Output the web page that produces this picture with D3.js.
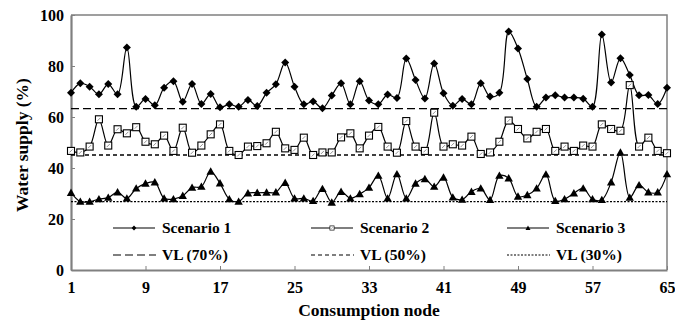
<!DOCTYPE html>
<html>
<head>
<meta charset="utf-8">
<script src="https://cdn.jsdelivr.net/npm/d3@7"></script>
<style>
  body { margin: 0; background: #fff; }
</style>
</head>
<body>
<svg id="chart" width="675" height="327"></svg>
<script>
// data
const nodes = d3.range(1, 66);
const xTicks = [1, 9, 17, 25, 33, 41, 49, 57, 65];
const yTicks = [0, 20, 40, 60, 80, 100];

const scenario1 = [69.5, 73.2, 71.9, 68.9, 72.9, 68.9, 87.3, 64.0, 67.1, 64.6,
  71.5, 74.0, 66.0, 72.9, 65.1, 69.0, 63.8, 65.0, 64.0, 66.7,
  64.3, 69.5, 72.8, 81.4, 71.9, 65.0, 66.1, 63.4, 68.4, 73.2,
  65.0, 74.0, 66.5, 65.0, 68.8, 67.5, 82.9, 74.5, 67.3, 81.0,
  69.3, 64.4, 67.1, 65.0, 73.2, 68.0, 69.5, 93.5, 86.9, 74.9,
  64.0, 67.6, 68.5, 67.6, 67.6, 67.2, 64.0, 92.4, 73.5, 83.0,
  76.5, 68.5, 68.6, 65.1, 71.5];
const scenario2 = [46.7, 46.1, 48.4, 59.1, 48.8, 55.2, 53.6, 56.0, 50.3, 49.3,
  52.7, 46.7, 55.8, 46.0, 48.8, 53.2, 57.1, 46.7, 45.1, 48.4,
  48.6, 49.7, 54.2, 47.7, 47.1, 51.9, 45.1, 46.1, 46.1, 52.0,
  53.6, 47.7, 52.7, 56.1, 48.4, 46.0, 58.4, 48.4, 46.7, 61.7,
  48.4, 49.3, 48.8, 52.3, 45.5, 46.1, 50.3, 58.6, 55.3, 51.6,
  54.2, 55.3, 46.7, 48.4, 46.7, 48.8, 48.4, 57.1, 55.3, 54.6,
  72.5, 48.4, 51.9, 46.7, 45.8];
const scenario3 = [30.3, 26.8, 26.8, 27.8, 28.4, 30.5, 28.1, 32.0, 33.9, 34.4,
  28.1, 27.8, 29.1, 32.3, 32.7, 38.6, 34.0, 27.8, 26.8, 30.1,
  30.3, 30.4, 30.5, 34.2, 28.1, 28.1, 27.1, 31.8, 26.5, 30.7,
  28.1, 29.8, 32.3, 37.0, 28.1, 37.6, 28.1, 33.9, 35.7, 32.7,
  36.3, 28.5, 27.6, 30.7, 32.0, 27.5, 37.0, 36.0, 28.8, 29.4,
  32.0, 37.5, 27.1, 27.8, 30.1, 32.0, 27.8, 27.5, 34.4, 46.1,
  28.4, 33.3, 30.5, 30.5, 37.6];
const vlNames = ["VL (70%)", "VL (50%)", "VL (30%)"];
const vlValues = [63.3, 45.1, 26.8];
const seriesNames = ["Scenario 1", "Scenario 2", "Scenario 3"];

// plot area
const margin = {top: 15, right: 8, bottom: 57, left: 71};
const width = 675 - margin.left - margin.right;
const height = 327 - margin.top - margin.bottom;

const svg = d3.select("#chart");
const g = svg.append("g")
    .attr("transform", "translate(" + margin.left + "," + margin.top + ")");

const x = d3.scaleLinear().domain([1, 65]).range([0, width]);
const y = d3.scaleLinear().domain([0, 100]).range([height, 0]);

const series = [
  {name: seriesNames[0], values: scenario1, marker: "diamond"},
  {name: seriesNames[1], values: scenario2, marker: "square"},
  {name: seriesNames[2], values: scenario3, marker: "triangle"}
];
const dashes = ["8,4", "4,3", "2,1.5"];

// frame (top + right)
g.append("path")
    .attr("d", "M0,0H" + width + "V" + height)
    .attr("fill", "none")
    .attr("stroke", "#808080")
    .attr("stroke-width", 1.5);

// axes
const xAxis = g.append("g")
    .attr("transform", "translate(0," + height + ")")
    .call(d3.axisBottom(x).tickValues(xTicks).tickSizeInner(-4).tickSizeOuter(0).tickPadding(12));
const yAxis = g.append("g")
    .call(d3.axisLeft(y).tickValues(yTicks).tickSizeInner(-4).tickSizeOuter(0).tickPadding(7));

[xAxis, yAxis].forEach(function (a) {
  a.select(".domain").attr("stroke", "#808080").attr("stroke-width", 2.2);
  a.selectAll(".tick line").attr("stroke", "#808080").attr("stroke-width", 1);
  a.selectAll(".tick text")
      .attr("fill", "#000")
      .attr("font-size", 16);
});

// vl reference lines
vlValues.forEach(function (v, i) {
  g.append("line")
      .attr("x1", 0).attr("x2", width)
      .attr("y1", y(v)).attr("y2", y(v))
      .attr("stroke", "#000")
      .attr("stroke-width", 1.3)
      .attr("stroke-dasharray", dashes[i]);
});

// markers
function drawMarker(sel, type) {
  if (type === "diamond") {
    sel.append("path")
        .attr("d", "M0,-4L4,0L0,4L-4,0Z")
        .attr("fill", "#000");
  } else if (type === "square") {
    sel.append("rect")
        .attr("x", -3.5).attr("y", -3.5)
        .attr("width", 7).attr("height", 7)
        .attr("fill", "#fff")
        .attr("stroke", "#000")
        .attr("stroke-width", 1.1);
    sel.append("path")
        .attr("d", "M-1.5,1.5L1.5,-1.5")
        .attr("stroke", "#777")
        .attr("stroke-width", 0.8);
  } else {
    sel.append("path")
        .attr("d", "M0,-4.2L4.2,3.2L-4.2,3.2Z")
        .attr("fill", "#000");
  }
}

const line = d3.line()
    .x(function (d, i) { return x(nodes[i]); })
    .y(function (d) { return y(d); })
    .curve(d3.curveCatmullRom.alpha(0.5));

series.forEach(function (s) {
  g.append("path")
      .datum(s.values)
      .attr("d", line)
      .attr("fill", "none")
      .attr("stroke", "#000")
      .attr("stroke-width", 1.2);

  g.append("g")
      .selectAll("g")
      .data(s.values)
      .enter()
      .append("g")
      .attr("transform", function (d, i) {
        return "translate(" + x(nodes[i]) + "," + y(d) + ")";
      })
      .each(function () { drawMarker(d3.select(this), s.marker); });
});

// legend
const legX = [113, 311, 507];
const legend = svg.append("g");
series.forEach(function (s, i) {
  const row = legend.append("g").attr("transform", "translate(" + legX[i] + ",228)");
  row.append("line")
      .attr("x1", 0).attr("x2", 42)
      .attr("stroke", "#000")
      .attr("stroke-width", 1.2);
  const m = row.append("g").attr("transform", "translate(21,0) scale(0.6)");
  drawMarker(m, s.marker);
  row.append("text")
      .attr("x", 49)
      .attr("dy", "0.35em")
      .attr("font-size", 15.5)
      .text(s.name);

  const row2 = legend.append("g").attr("transform", "translate(" + legX[i] + ",255)");
  row2.append("line")
      .attr("x1", 0).attr("x2", 43)
      .attr("stroke", "#000")
      .attr("stroke-width", 1.2)
      .attr("stroke-dasharray", dashes[i]);
  row2.append("text")
      .attr("x", 49)
      .attr("dy", "0.35em")
      .attr("font-size", 15.5)
      .text(vlNames[i]);
});

// axis titles
svg.append("text")
    .attr("x", margin.left + width / 2)
    .attr("y", 316)
    .attr("text-anchor", "middle")
    .attr("font-size", 17.5)
    .text("Consumption node");

svg.append("text")
    .attr("transform", "translate(28,145) rotate(-90)")
    .attr("text-anchor", "middle")
    .attr("font-size", 17.5)
    .text("Water supply (%)");

// all text in bold serif
svg.selectAll("g").attr("font-family", null);
svg.selectAll("text")
    .attr("font-family", "Liberation Serif")
    .attr("font-weight", "bold");
</script>
</body>
</html>
